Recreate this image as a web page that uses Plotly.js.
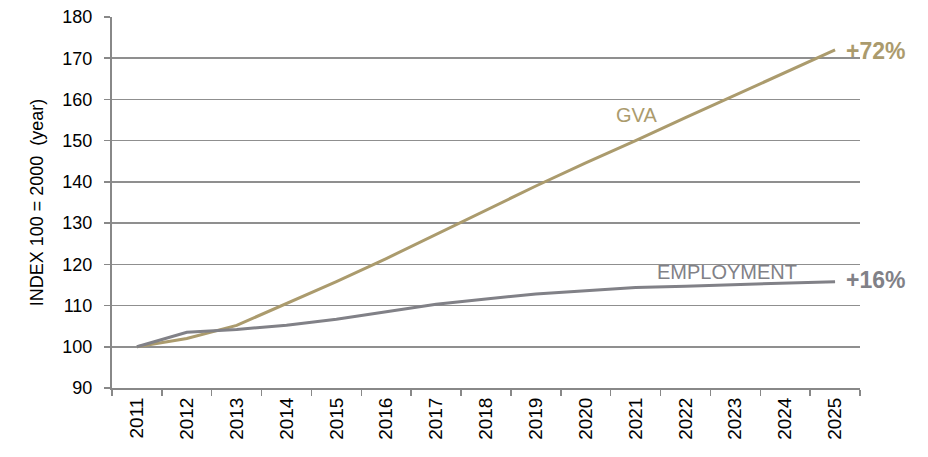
<!DOCTYPE html>
<html>
<head>
<meta charset="utf-8">
<script src="https://cdn.plot.ly/plotly-3.0.1.min.js"></script>
<style>html,body{margin:0;padding:0;background:#fff;}#chart{width:928px;height:457px;}</style>
</head>
<body>
<div id="chart"></div>
<script>
const years = ["2011","2012","2013","2014","2015","2016","2017","2018","2019","2020","2021","2022","2023","2024","2025"];
const gva = [100, 102.0, 105.2, 110.5, 115.8, 121.4, 127.2, 133.2, 139.0, 144.6, 150.0, 155.6, 161.1, 166.6, 172.0];
const employment = [100, 103.5, 104.2, 105.2, 106.7, 108.5, 110.3, 111.6, 112.8, 113.6, 114.4, 114.7, 115.1, 115.4, 115.8];
const seriesNames = ["GVA", "EMPLOYMENT"];
const endLabels = ["+72%", "+16%"];
const gold = "#ab9b6d";
const grey = "#818187";
const FONT = "Liberation Sans, Arial, sans-serif";

const traces = [
  {x: years, y: gva, type: "scatter", mode: "lines", name: seriesNames[0], line: {color: gold, width: 3}},
  {x: years, y: employment, type: "scatter", mode: "lines", name: seriesNames[1], line: {color: grey, width: 3}}
];

const layout = {
  width: 928, height: 457,
  margin: {l: 112, r: 68, t: 17, b: 69},
  paper_bgcolor: "#fff", plot_bgcolor: "#fff",
  showlegend: false,
  font: {family: FONT, color: "#000"},
  xaxis: {
    type: "category",
    categoryarray: years, categoryorder: "array",
    range: [-0.5, years.length - 0.5],
    tickson: "boundaries",
    ticks: "outside", ticklen: 6, tickcolor: "#888", tickwidth: 1.5,
    showline: true, linecolor: "#888", linewidth: 2,
    showgrid: false,
    tickangle: -90,
    tickfont: {size: 19, color: "#000"}
  },
  yaxis: {
    range: [90, 180],
    dtick: 10,
    ticks: "outside", ticklen: 6, tickcolor: "#888", tickwidth: 1.5,
    ticklabelstandoff: 8,
    showline: true, linecolor: "#888", linewidth: 2,
    showgrid: true, gridcolor: "#8f8f8f", gridwidth: 1.5,
    zeroline: false,
    tickfont: {size: 18, color: "#000"},
    title: {text: "INDEX 100 = 2000  (year)", font: {size: 18, color: "#000"}, standoff: 14}
  },
  annotations: [
    {x: years.indexOf("2021"), y: 156.3, text: seriesNames[0], showarrow: false, xanchor: "center", yanchor: "middle", xshift: 1, font: {size: 20, color: gold}},
    {x: years.indexOf("2023"), y: 118.1, text: seriesNames[1], showarrow: false, xanchor: "center", yanchor: "middle", xshift: -8.5, font: {size: 20, color: grey}},
    {xref: "paper", x: 1, y: gva[gva.length-1] - 0.3, text: "<b>" + endLabels[0] + "</b>", showarrow: false, xanchor: "left", xshift: -16, font: {size: 23, color: gold}},
    {xref: "paper", x: 1, y: employment[employment.length-1] + 0.3, text: "<b>" + endLabels[1] + "</b>", showarrow: false, xanchor: "left", xshift: -16, font: {size: 23, color: grey}}
  ]
};

Plotly.newPlot("chart", traces, layout, {displayModeBar: false, staticPlot: true});
</script>
</body>
</html>
